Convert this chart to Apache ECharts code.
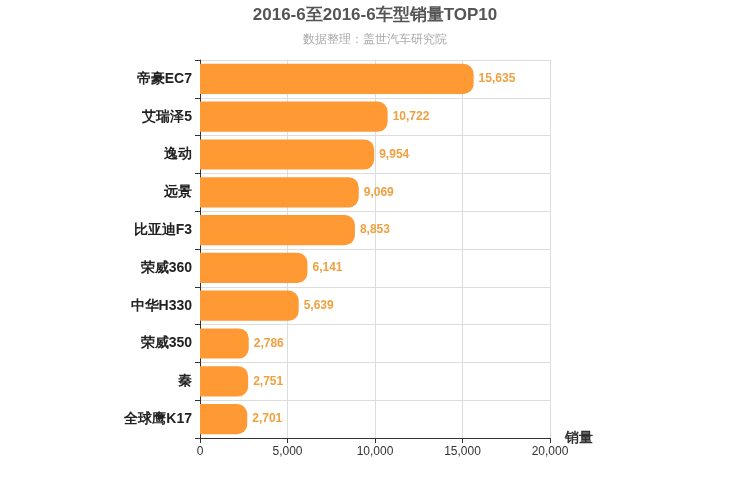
<!doctype html>
<html>
<head>
<meta charset="utf-8">
<script src="https://cdn.jsdelivr.net/npm/echarts@6/dist/echarts.min.js"></script>
<style>html,body{margin:0;padding:0;background:#fff}#main{width:750px;height:500px}</style>
</head>
<body>
<div id="main"></div>
<script>
// top to bottom as in the picture
var models = ['帝豪EC7', '艾瑞泽5', '逸动', '远景', '比亚迪F3', '荣威360', '中华H330', '荣威350', '秦', '全球鹰K17'];
var sales = [15635, 10722, 9954, 9069, 8853, 6141, 5639, 2786, 2751, 2701];

var chart = echarts.init(document.getElementById('main'));
chart.setOption({
    animation: false,
    title: {
        text: '2016-6至2016-6车型销量TOP10',
        subtext: '数据整理：盖世汽车研究院',
        left: 'center',
        top: 2,
        itemGap: 10,
        textStyle: {fontSize: 17, fontWeight: 'bold', color: '#555'},
        subtextStyle: {fontSize: 12, color: '#aaa'}
    },
    grid: {left: 200, right: 200, top: 60, bottom: 62},
    xAxis: {
        type: 'value',
        min: 0, max: 20000, interval: 5000,
        name: '销量',
        nameLocation: 'end',
        nameGap: 15,
        nameTextStyle: {fontSize: 14, fontWeight: 'bold', color: '#333', padding: [0, 0, 0, 0]},
        axisLine: {show: true, lineStyle: {color: '#333'}},
        axisTick: {show: true},
        axisLabel: {color: '#333', fontSize: 12},
        splitLine: {lineStyle: {color: '#ddd'}}
    },
    yAxis: {
        type: 'category',
        data: models,
        inverse: true,
        axisLine: {lineStyle: {color: '#333'}},
        axisTick: {show: true},
        axisLabel: {color: '#222', fontSize: 14, fontWeight: 'bold'},
        splitLine: {show: true, lineStyle: {color: '#ddd'}}
    },
    series: [{
        type: 'bar',
        data: sales,
        barWidth: '80%',
        itemStyle: {color: '#ff9933', borderRadius: [0, 10, 10, 0]},
        label: {
            show: true, position: 'right', color: '#f0a040', fontSize: 12, fontWeight: 'bold',
            formatter: function (p) { return p.value.toLocaleString('en-US'); }
        }
    }]
});
</script>
</body>
</html>
